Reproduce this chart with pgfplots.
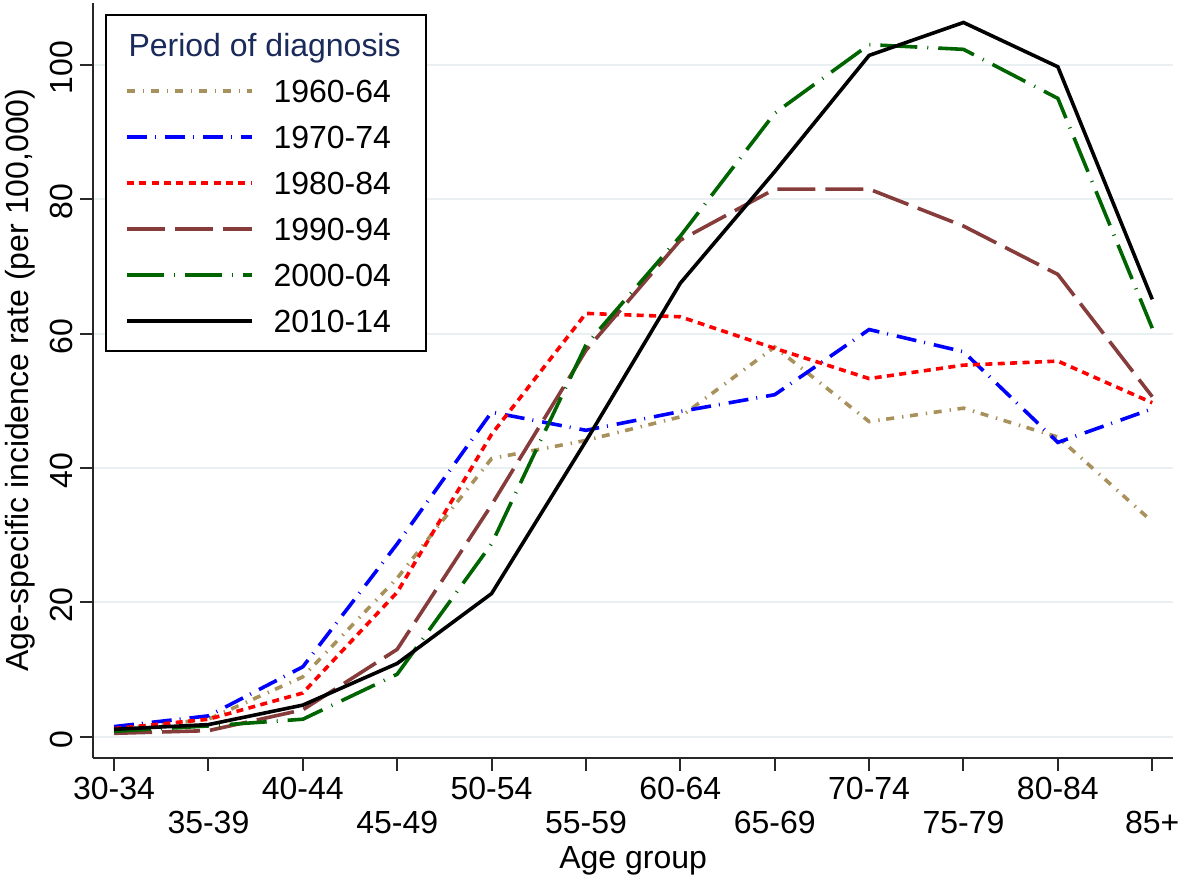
\documentclass[border=0pt]{standalone}
\usepackage{pgfplots}
\pgfplotsset{compat=1.18}
\usepackage{fontspec}
\setmainfont{Liberation Sans}
\definecolor{cA}{RGB}{168,145,90}
\definecolor{cB}{RGB}{0,0,255}
\definecolor{cC}{RGB}{255,0,0}
\definecolor{cD}{RGB}{135,60,60}
\definecolor{cE}{RGB}{0,100,0}
\definecolor{cF}{RGB}{0,0,0}
\definecolor{gridc}{RGB}{232,240,242}
\definecolor{axc}{RGB}{40,40,40}
\definecolor{titlec}{RGB}{26,42,90}
\newcommand{\sz}{\fontsize{16}{19.2}\selectfont}
\begin{document}
\begin{tikzpicture}
\begin{axis}[
  name=ax,
  scale only axis,
  width=540pt, height=377.35pt,
  xmin=-0.22, xmax=11.22,
  ymin=-3.1, ymax=109.2,
  axis x line*=bottom, axis y line*=left,
  axis line style={line width=1pt, color=axc},
  tick style={line width=1pt, color=axc},
  tick align=outside,
  major tick length=6.5pt,
  ytick={0,20,40,60,80,100},
  ymajorgrids,
  grid style={line width=1pt, color=gridc},
  xtick={0,2,4,6,8,10},
  xticklabels={30-34,40-44,50-54,60-64,70-74,80-84},
  extra x ticks={1,3,5,7,9,11},
  extra x tick labels={35-39,45-49,55-59,65-69,75-79,85+},
  extra x tick style={tick label style={yshift=-17pt}},
  /pgf/number format/assume math mode=true,
  ticklabel style={font=\sz},
  yticklabel style={rotate=90, anchor=south, xshift=-1.4pt},
  xlabel={Age group},
  ylabel={Age-specific incidence rate (per 100,000)},
  xlabel style={font=\sz, at={(axis description cs:0.5,0)}, anchor=north, yshift=-40.8pt},
  ylabel style={font=\sz, at={(axis description cs:-0.0679,0.5)}, anchor=center},
  legend style={at={(axis description cs:0.01083,0.98542)}, anchor=north west,
    draw=black, line width=1pt, fill=white,
    inner xsep=7.2pt, inner ysep=3.6pt,
    font=\sz, column sep=4.7pt, row sep=0pt,
    nodes={inner xsep=5.3pt, inner ysep=5.75pt, text height=11.5pt, text depth=0pt}},
  legend cell align=left,
  legend image code/.code={\path (0pt,0pt); \draw[#1] (2.3pt,0pt) -- (64.8pt,0pt);},
  every axis plot/.append style={line width=1.8pt},
]
\addlegendimage{empty legend}
\addlegendentry{\hspace*{-72.5pt}\textcolor{titlec}{Period of diagnosis}}
\addplot[color=cA, dash pattern=on 4pt off 4pt on 0.7pt off 3.3pt] coordinates {
(0,1.0) (1,2.6) (2,8.9) (3,23.6) (4,41.4) (5,44.1) (6,47.6) (7,58.0) (8,46.9) (9,48.9) (10,44.6) (11,32.0)};
\addlegendentry{1960-64}
\addplot[color=cB, dash pattern=on 10pt off 4pt on 0.5pt off 4.5pt] coordinates {
(0,1.5) (1,3.1) (2,10.4) (3,28.7) (4,48.3) (5,45.6) (6,48.4) (7,50.9) (8,60.6) (9,57.3) (10,43.8) (11,48.8)};
\addlegendentry{1970-74}
\addplot[color=cC, dash pattern=on 3.5pt off 2.7pt] coordinates {
(0,1.2) (1,2.6) (2,6.5) (3,21.5) (4,45.0) (5,63.0) (6,62.5) (7,57.8) (8,53.3) (9,55.3) (10,55.9) (11,49.7)};
\addlegendentry{1980-84}
\addplot[color=cD, dash pattern=on 19pt off 5pt] coordinates {
(0,0.5) (1,0.9) (2,4.0) (3,13.0) (4,34.5) (5,57.5) (6,73.9) (7,81.5) (8,81.5) (9,76.0) (10,68.8) (11,50.6)};
\addlegendentry{1990-94}
\addplot[color=cE, dash pattern=on 18.5pt off 5pt on 0.5pt off 5pt] coordinates {
(0,0.8) (1,1.6) (2,2.6) (3,9.3) (4,28.7) (5,58.3) (6,74.5) (7,92.8) (8,103.0) (9,102.3) (10,95.0) (11,60.8)};
\addlegendentry{2000-04}
\addplot[color=cF, solid] coordinates {
(0,1.1) (1,1.8) (2,4.7) (3,10.9) (4,21.3) (5,44.0) (6,67.5) (7,84.1) (8,101.4) (9,106.3) (10,99.7) (11,65.1)};
\addlegendentry{2010-14}
\end{axis}
\pgfresetboundingbox
\path[use as bounding box] ([shift={(-46.65pt,-63.15pt)}]ax.south west) rectangle ([shift={(3.5pt,1.5pt)}]ax.north east);
\end{tikzpicture}
\end{document}
